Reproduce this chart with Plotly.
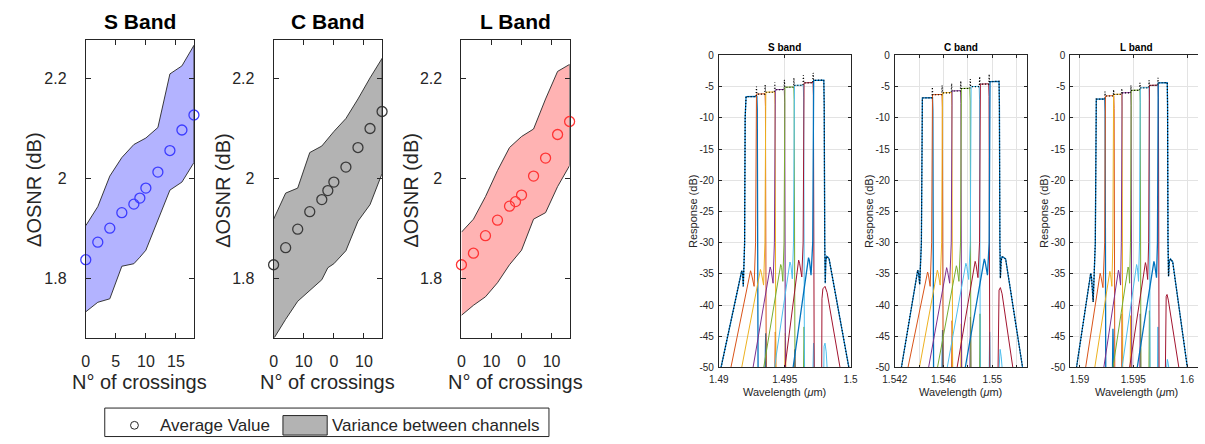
import plotly.graph_objects as go

# ---------------- left group: delta OSNR vs crossings ----------------
crossings = [0, 2, 4, 6, 8, 9, 10, 12, 14, 16, 18]
S_avg = [1.838, 1.873, 1.901, 1.932, 1.949, 1.961, 1.981, 2.013, 2.056, 2.097, 2.127]
S_upper = [1.906, 1.944, 2.005, 2.042, 2.068, 2.075, 2.081, 2.102, 2.209, 2.225, 2.266]
S_lower = [1.734, 1.753, 1.760, 1.825, 1.830, 1.843, 1.857, 1.916, 1.977, 1.993, 2.032]
C_avg = [1.828, 1.862, 1.899, 1.934, 1.958, 1.976, 1.993, 2.023, 2.062, 2.100, 2.134]
C_upper = [1.919, 1.971, 1.981, 2.052, 2.065, 2.080, 2.094, 2.120, 2.159, 2.201, 2.240]
C_lower = [1.680, 1.719, 1.755, 1.777, 1.798, 1.822, 1.830, 1.856, 1.915, 1.948, 2.010]
L_avg = [1.828, 1.851, 1.886, 1.917, 1.945, 1.954, 1.967, 2.005, 2.041, 2.088, 2.114]
L_upper = [1.893, 1.919, 1.964, 2.016, 2.062, 2.073, 2.084, 2.099, 2.159, 2.214, 2.228]
L_lower = [1.727, 1.747, 1.764, 1.792, 1.828, 1.843, 1.857, 1.919, 1.932, 1.984, 2.026]
left_titles = ["S Band", "C Band", "L Band"]
S_xticktext = ["0", "5", "10", "15"]
CL_xticktext = ["0", "10", "0", "10"]
legend_labels = ["Average Value", "Variance between channels"]

# ---------------- right group: filter responses ----------------
S_env_x = [1.49017, 1.49162, 1.49174, 1.49181, 1.49186, 1.49196, 1.49200, 1.49207,
           1.49283, 1.49286, 1.49289, 1.49349, 1.49352, 1.49355, 1.49422, 1.49425, 1.49428,
           1.49495, 1.49498, 1.49501, 1.49567, 1.49570, 1.49573, 1.49639, 1.49642, 1.49645,
           1.49713, 1.49716, 1.49719,
           1.49797, 1.49800, 1.49804, 1.49808, 1.49812, 1.49818, 1.49825, 1.49837, 1.49987]
S_env_y = [-50, -35.7, -34.5, -35.0, -37.0, -30, -10, -6.6,
           -6.6, -5.0, -6.2, -6.2, -4.7, -5.9, -5.9, -4.3, -5.5,
           -5.5, -3.9, -5.1, -5.1, -3.6, -4.8, -4.8, -3.2, -4.4,
           -4.4, -2.8, -4.0,
           -3.95, -8, -30, -36.5, -33.0, -32.2, -32.3, -32.6, -50]
S_ch_x = [
    [1.49017, 1.49162, 1.49174, 1.49181, 1.49186, 1.49196, 1.49200, 1.49207, 1.49289, 1.49292, 1.49298, None, 1.49352, 1.49354, 1.49356, 1.49358, 1.49360],
    [1.49092, 1.49229, 1.49241, 1.49248, 1.49268, 1.49279, 1.49282, 1.49286, 1.49351, 1.49354, 1.49360, None, 1.49425, 1.49427, 1.49429, 1.49431, 1.49433],
    [1.49174, 1.49304, 1.49316, 1.49323, 1.49340, 1.49350, 1.49353, 1.49357, 1.49424, 1.49427, 1.49433, None, 1.49501, 1.49503, 1.49505, 1.49507, 1.49509],
    [1.49260, 1.49378, 1.49390, 1.49397, 1.49412, 1.49422, 1.49425, 1.49429, 1.49497, 1.49500, 1.49506, None, 1.49573, 1.49575, 1.49577, 1.49579, 1.49581],
    [1.49341, 1.49458, 1.49470, 1.49477, 1.49486, 1.49495, 1.49498, 1.49502, 1.49569, 1.49572, 1.49578, None, 1.49643, 1.49645, 1.49647, 1.49649, 1.49651],
    [1.49423, 1.49528, 1.49540, 1.49547, 1.49558, 1.49567, 1.49570, 1.49574, 1.49641, 1.49644, 1.49650, None, 1.49715, 1.49717, 1.49719, 1.49721, 1.49723, None, 1.49797, 1.49799, 1.49806, 1.49815, 1.49822],
    [1.49502, 1.49594, 1.49606, 1.49613, 1.49630, 1.49640, 1.49643, 1.49647, 1.49715, 1.49718, 1.49724, None, 1.49781, 1.49783, 1.49790, 1.49806, 1.49822, 1.49920],
    [1.49564, 1.49669, 1.49681, 1.49688, 1.49700, 1.49713, 1.49716, 1.49720, 1.49797, 1.49800, 1.49804, 1.49808, 1.49812, 1.49818, 1.49825, 1.49837, 1.49987],
]
S_ch_y = [
    [-50, -35.7, -34.5, -35.0, -37.0, -30, -10, -6.6, -6.55, -8.6, -50, None, -50, -46.0, -44.5, -46.0, -50],
    [-50, -35.7, -34.5, -35.0, -37.0, -30, -10, -6.2, -6.15, -8.2, -50, None, -50, -45.8, -44.3, -45.8, -50],
    [-50, -35.5, -34.3, -34.8, -36.8, -30, -10, -5.9, -5.85, -7.9, -50, None, -50, -46.0, -44.5, -46.0, -50],
    [-50, -35.1, -33.9, -34.4, -36.5, -30, -10, -5.5, -5.45, -7.5, -50, None, -50, -48.2, -47.1, -48.2, -50],
    [-50, -34.7, -33.5, -34.0, -36.2, -30, -10, -5.1, -5.05, -7.1, -50, None, -50, -45.0, -43.5, -45.0, -50],
    [-50, -34.3, -33.1, -33.6, -35.8, -30, -10, -4.8, -4.75, -6.8, -50, None, -50, -47.3, -46.1, -47.3, -50, None, -50, -46.6, -46.1, -47.5, -50],
    [-50, -34.0, -32.8, -33.3, -35.5, -30, -10, -4.4, -4.35, -6.4, -50, None, -50, -39.0, -37.4, -37.0, -38.0, -50],
    [-50, -33.6, -32.4, -32.9, -35.2, -30, -10, -4.0, -3.95, -8, -30, -36.5, -33.0, -32.2, -32.3, -32.6, -50],
]

C_env_x = [1.54254, 1.54376, 1.54388, 1.54395, 1.54404, 1.54418, 1.54421, 1.54426,
           1.54505, 1.54508, 1.54511, 1.54585, 1.54588, 1.54591, 1.54663, 1.54666, 1.54669,
           1.54738, 1.54741, 1.54744, 1.54816, 1.54819, 1.54822, 1.54893, 1.54896, 1.54899,
           1.54971, 1.54974, 1.54977,
           1.55055, 1.55058, 1.55062, 1.55066, 1.55072, 1.55078, 1.55087, 1.55109, 1.55248]
C_env_y = [-50, -35.6, -34.4, -34.9, -36.7, -30, -10, -6.8,
           -6.8, -5.1, -6.3, -6.3, -4.8, -6.0, -6.0, -4.5, -5.7,
           -5.7, -4.1, -5.3, -5.3, -3.8, -5.0, -5.0, -3.4, -4.6,
           -4.6, -3.0, -4.2,
           -4.15, -8, -30, -35.7, -33.0, -32.3, -32.3, -32.6, -50]
C_ch_x = [
    [1.54254, 1.54376, 1.54388, 1.54395, 1.54404, 1.54418, 1.54421, 1.54426, 1.54509, 1.54512, 1.54518, None, 1.54588, 1.54590, 1.54592, 1.54594, 1.54596],
    [1.54308, 1.54457, 1.54469, 1.54476, 1.54490, 1.54502, 1.54505, 1.54509, 1.54587, 1.54590, 1.54596, None, 1.54666, 1.54668, 1.54670, 1.54672, 1.54674],
    [1.54402, 1.54537, 1.54549, 1.54556, 1.54572, 1.54584, 1.54587, 1.54591, 1.54665, 1.54668, 1.54674, None, 1.54741, 1.54743, 1.54745, 1.54747, 1.54749],
    [1.54477, 1.54613, 1.54625, 1.54632, 1.54650, 1.54663, 1.54666, 1.54670, 1.54739, 1.54742, 1.54748, None, 1.54816, 1.54818, 1.54820, 1.54822, 1.54824],
    [1.54550, 1.54693, 1.54705, 1.54712, 1.54726, 1.54739, 1.54742, 1.54746, 1.54815, 1.54818, 1.54824, None, 1.54895, 1.54897, 1.54899, 1.54901, 1.54903],
    [1.54630, 1.54771, 1.54783, 1.54790, 1.54806, 1.54819, 1.54822, 1.54826, 1.54892, 1.54895, 1.54901, None, 1.54974, 1.54976, 1.54978, 1.54980, 1.54982, None, 1.55056, 1.55058, 1.55064, 1.55073, 1.55080],
    [1.54711, 1.54847, 1.54859, 1.54866, 1.54882, 1.54895, 1.54898, 1.54902, 1.54970, 1.54973, 1.54979, None, 1.55047, 1.55049, 1.55055, 1.55066, 1.55080, 1.55168],
    [1.54778, 1.54922, 1.54934, 1.54941, 1.54960, 1.54974, 1.54977, 1.54981, 1.55055, 1.55058, 1.55062, 1.55066, 1.55072, 1.55078, 1.55087, 1.55109, 1.55248],
]
C_ch_y = [
    [-50, -35.6, -34.4, -34.9, -36.7, -30, -10, -6.8, -6.75, -8.8, -50, None, -50, -45.5, -44.0, -45.5, -50],
    [-50, -35.9, -34.7, -35.2, -37.0, -30, -10, -6.3, -6.25, -8.3, -50, None, -50, -44.0, -42.5, -44.0, -50],
    [-50, -35.6, -34.4, -34.9, -36.8, -30, -10, -6.0, -5.95, -8.0, -50, None, -50, -44.5, -43.0, -44.5, -50],
    [-50, -35.2, -34.0, -34.5, -36.5, -30, -10, -5.7, -5.65, -7.7, -50, None, -50, -43.4, -41.9, -43.4, -50],
    [-50, -34.9, -33.7, -34.2, -36.2, -30, -10, -5.3, -5.25, -7.3, -50, None, -50, -42.9, -41.4, -42.9, -50],
    [-50, -34.5, -33.3, -33.8, -35.9, -30, -10, -5.0, -4.95, -7.0, -50, None, -50, -45.8, -44.3, -45.8, -50, None, -50, -47.6, -47.1, -48.3, -50],
    [-50, -34.2, -33.0, -33.5, -35.6, -30, -10, -4.6, -4.55, -6.6, -50, None, -50, -39.0, -37.6, -37.2, -38.2, -50],
    [-50, -33.8, -32.6, -33.1, -35.2, -30, -10, -4.2, -4.15, -8, -30, -35.7, -33.0, -32.3, -32.3, -32.6, -50],
]

L_env_x = [1.58972, 1.59092, 1.59104, 1.59112, 1.59127, 1.59147, 1.59151, 1.59156,
           1.59234, 1.59237, 1.59240, 1.59314, 1.59317, 1.59320, 1.59390, 1.59393, 1.59396,
           1.59475, 1.59478, 1.59481, 1.59559, 1.59562, 1.59565, 1.59644, 1.59647, 1.59650,
           1.59727, 1.59730, 1.59733,
           1.59816, 1.59819, 1.59823, 1.59828, 1.59835, 1.59847, 1.59867, 1.60003]
L_env_y = [-50, -36.1, -34.9, -35.6, -39.5, -30, -10, -7.0,
           -7.0, -5.8, -6.5, -6.5, -5.5, -6.25, -6.25, -5.3, -6.0,
           -6.0, -4.8, -5.6, -5.6, -4.4, -5.2, -5.2, -4.0, -4.8,
           -4.8, -3.6, -4.4,
           -4.35, -8, -30, -35.4, -33.0, -32.6, -33.1, -50]
L_ch_x = [
    [1.58972, 1.59092, 1.59104, 1.59112, 1.59127, 1.59147, 1.59151, 1.59156, 1.59235, 1.59238, 1.59244, None, 1.59307, 1.59309, 1.59311, 1.59313, 1.59315],
    [1.59057, 1.59180, 1.59192, 1.59199, 1.59218, 1.59234, 1.59237, 1.59241, 1.59319, 1.59322, 1.59328, None, 1.59392, 1.59394, 1.59396, 1.59398, 1.59400],
    [1.59142, 1.59270, 1.59282, 1.59289, 1.59301, 1.59310, 1.59313, 1.59317, 1.59393, 1.59396, 1.59402, None, 1.59471, 1.59473, 1.59475, 1.59477, 1.59479],
    [1.59226, 1.59350, 1.59362, 1.59369, 1.59382, 1.59389, 1.59392, 1.59396, 1.59477, 1.59480, 1.59486, None, 1.59561, 1.59563, 1.59565, 1.59567, 1.59569],
    [1.59311, 1.59440, 1.59452, 1.59459, 1.59466, 1.59474, 1.59477, 1.59481, 1.59562, 1.59565, 1.59571, None, 1.59646, 1.59648, 1.59650, 1.59652, 1.59654],
    [1.59396, 1.59519, 1.59531, 1.59538, 1.59549, 1.59558, 1.59561, 1.59565, 1.59647, 1.59650, 1.59656, None, 1.59725, 1.59727, 1.59729, 1.59731, 1.59733, None, 1.59810, 1.59812, 1.59817, 1.59824, 1.59830],
    [1.59466, 1.59601, 1.59613, 1.59620, 1.59634, 1.59643, 1.59646, 1.59650, 1.59731, 1.59734, 1.59740, None, 1.59799, 1.59801, 1.59806, 1.59814, 1.59826, 1.59924],
    [1.59537, 1.59680, 1.59692, 1.59699, 1.59716, 1.59725, 1.59728, 1.59732, 1.59816, 1.59819, 1.59823, 1.59828, 1.59835, 1.59847, 1.59867, 1.60003],
]
L_ch_y = [
    [-50, -36.1, -34.9, -35.6, -39.5, -30, -10, -7.0, -6.95, -9.0, -50, None, -50, -45.3, -43.8, -45.3, -50],
    [-50, -36.1, -34.9, -35.4, -37.2, -30, -10, -6.5, -6.45, -8.5, -50, None, -50, -42.9, -41.4, -42.9, -50],
    [-50, -35.8, -34.6, -35.1, -37.0, -30, -10, -6.25, -6.2, -8.25, -50, None, -50, -43.2, -41.7, -43.2, -50],
    [-50, -35.6, -34.4, -34.9, -36.8, -30, -10, -6.0, -5.95, -8.0, -50, None, -50, -42.9, -41.4, -42.9, -50],
    [-50, -35.1, -33.9, -34.4, -36.5, -30, -10, -5.6, -5.55, -7.6, -50, None, -50, -42.4, -40.9, -42.4, -50],
    [-50, -34.7, -33.5, -34.0, -36.2, -30, -10, -5.2, -5.15, -7.2, -50, None, -50, -45.0, -43.5, -45.0, -50, None, -50, -49.0, -48.7, -49.3, -50],
    [-50, -34.4, -33.2, -33.7, -35.9, -30, -10, -4.8, -4.75, -6.8, -50, None, -50, -40.0, -38.6, -38.3, -39.2, -50],
    [-50, -34.2, -33.0, -33.5, -35.6, -30, -10, -4.4, -4.35, -8, -30, -35.4, -33.0, -32.6, -33.1, -50],
]
right_titles = ["S band", "C band", "L band"]
resp_ticks = [-50, -45, -40, -35, -30, -25, -20, -15, -10, -5, 0]
resp_ticktext = ["-50", "-45", "-40", "-35", "-30", "-25", "-20", "-15", "-10", "-5", "0"]
S_wl_ticks = [1.49, 1.495, 1.5]
S_wl_text = ["1.49", "1.495", "1.5"]
C_wl_ticks = [1.542, 1.544, 1.546, 1.548, 1.55, 1.552]
C_wl_text = ["1.542", "", "1.546", "", "1.55", ""]
L_wl_ticks = [1.59, 1.595, 1.6]
L_wl_text = ["1.59", "1.595", "1.6"]

# ---------------- styling ----------------
W, H = 1205, 444
INK = "#262626"
FONT = "Liberation Sans, Arial, sans-serif"
matlab = ["#0072BD", "#D95319", "#EDB120", "#7E2F8E", "#77AC30", "#4DBEEE", "#A2142F", "#0072BD"]


def px(x0, x1):
    return [x0 / W, min(x1 / W, 1.0)]


def py(top, bottom):
    return [1 - bottom / H, 1 - top / H]


fig = go.Figure()

left_sets = [
    (S_avg, S_upper, S_lower, "#b3b3ff", "#3c3cff", S_xticktext),
    (C_avg, C_upper, C_lower, "#b3b3b3", "#3a3a3a", CL_xticktext),
    (L_avg, L_upper, L_lower, "#ffb3b3", "#ff3434", CL_xticktext),
]
left_dom = [px(74, 184), px(265, 375.3), px(456, 566)]
left_ydom = py(36, 341)

layout_axes = {}
for i, (avg, up, lo, fc, mc, xt) in enumerate(left_sets):
    n = i + 1
    xa = "x" if n == 1 else f"x{n}"
    ya = "y" if n == 1 else f"y{n}"
    fig.add_trace(go.Scatter(
        x=crossings + crossings[::-1], y=up + lo[::-1], fill="toself", fillcolor=fc,
        mode="lines", line=dict(color=INK, width=0.9), xaxis=xa, yaxis=ya,
        name=legend_labels[1], showlegend=False, hoverinfo="skip"))
    fig.add_trace(go.Scatter(
        x=crossings, y=avg, mode="markers", cliponaxis=False,
        marker=dict(symbol="circle-open", size=10, color=mc, line=dict(width=1.3, color=mc)),
        xaxis=xa, yaxis=ya, name=legend_labels[0], showlegend=False))
    axis_common = dict(ticks="inside", ticklen=5, tickwidth=1, tickcolor=INK, showline=True,
                       linecolor=INK, linewidth=1, mirror="ticks", showgrid=False, zeroline=False,
                       tickfont=dict(size=16, color=INK, family=FONT))
    layout_axes["xaxis" if n == 1 else f"xaxis{n}"] = dict(
        domain=left_dom[i], range=[0, 18], tickvals=[0, 5, 10, 15], ticktext=xt,
        anchor=ya, ticklabelstandoff=9, **axis_common)
    layout_axes["yaxis" if n == 1 else f"yaxis{n}"] = dict(
        domain=left_ydom, range=[1.6826, 2.2765], tickvals=[1.8, 2.0, 2.2], ticktext=["1.8", "2", "2.2"],
        anchor=xa, ticklabelstandoff=15, **axis_common)

right_sets = [
    (S_ch_x, S_ch_y, S_env_x, S_env_y, [1.49, 1.5], S_wl_ticks, S_wl_text),
    (C_ch_x, C_ch_y, C_env_x, C_env_y, [1.542, 1.55281], C_wl_ticks, C_wl_text),
    (L_ch_x, L_ch_y, L_env_x, L_env_y, [1.58913, 1.60102], L_wl_ticks, L_wl_text),
]
right_dom = [px(717.7, 851.7), px(896.7, 1030.7), px(1075, 1209)]
right_ydom = py(51.7, 371.7)
for i, (cx, cy, ex, ey, rng, tv, tt) in enumerate(right_sets):
    n = i + 4
    xa, ya = f"x{n}", f"y{n}"
    for k in range(8):
        fig.add_trace(go.Scatter(
            x=cx[k], y=cy[k], mode="lines", connectgaps=False,
            line=dict(color=matlab[k], width=1.3 if k in (0, 7) else 1.0),
            xaxis=xa, yaxis=ya, showlegend=False, hoverinfo="skip"))
    fig.add_trace(go.Scatter(
        x=ex, y=ey, mode="lines", line=dict(color="black", width=1.2, dash="1px,2px"),
        xaxis=xa, yaxis=ya, showlegend=False, hoverinfo="skip"))
    axis_common = dict(ticks="inside", ticklen=3, tickwidth=0.8, tickcolor=INK, showline=True,
                       linecolor=INK, linewidth=0.8, showgrid=True, gridcolor="#e3e3e3",
                       gridwidth=0.8, zeroline=False, tickfont=dict(size=10, color=INK, family=FONT))
    layout_axes[f"xaxis{n}"] = dict(domain=right_dom[i], range=rng, tickvals=tv, ticktext=tt,
                                    anchor=ya, mirror="ticks", ticklabelstandoff=3, **axis_common)
    layout_axes[f"yaxis{n}"] = dict(domain=right_ydom, range=[-50, 0], tickvals=resp_ticks,
                                    ticktext=resp_ticktext, anchor=xa,
                                    mirror=("ticks" if i < 2 else False),
                                    ticklabelstandoff=2, **axis_common)

annotations = []


def ann(text, x, y, size, angle=0, bold=False, xanchor="center"):
    annotations.append(dict(
        text=f"<b>{text}</b>" if bold else text, x=x / W, y=1 - y / H, xref="paper", yref="paper",
        showarrow=False, xanchor=xanchor, yanchor="middle", textangle=angle,
        font=dict(size=size, color="black" if bold else INK, family=FONT)))


for t, cxp, ylx in zip(left_titles, [129, 320, 511], [22, 214, 405]):
    ann(t, cxp, 17, 21, bold=True)
    ann("N° of crossings", cxp, 387, 20)
    ann("ΔOSNR (dB)", ylx, 190, 20, angle=-90)
for t, cxp, ylx in zip(right_titles, [784.7, 963.7, 1142], [692, 871, 1049]):
    ann(t, cxp, 43.5, 10, bold=True)
    ann("Wavelength (<i>μ</i>m)", cxp, 397, 11)
    ann("Response (dB)", ylx, 211.7, 11, angle=-90)

# legend (box, open circle, grey patch, labels)
ann(legend_labels[0], 147, 431.5, 17, xanchor="left")
ann(legend_labels[1], 322, 431.5, 17, xanchor="left")


def rect_px(x0, y0, x1, y1, **kw):
    return dict(xref="paper", yref="paper", x0=x0 / W, x1=x1 / W, y0=1 - y1 / H, y1=1 - y0 / H, **kw)


shapes = [
    rect_px(93.3, 413.3, 545, 442.5, type="rect", line=dict(color=INK, width=1), fillcolor="white", layer="below"),
    rect_px(119.5, 427, 127.5, 435, type="circle", line=dict(color=INK, width=1)),
    rect_px(274.5, 421, 319.5, 441, type="rect", line=dict(color=INK, width=1), fillcolor="#b3b3b3"),
]

fig.update_layout(
    width=W, height=H, autosize=False, margin=dict(l=0, r=0, t=0, b=0),
    paper_bgcolor="white", plot_bgcolor="white",
    font=dict(family=FONT, color=INK),
    showlegend=False,
    annotations=annotations,
    shapes=shapes,
    **layout_axes,
)

fig.write_html("out.html", config={"displayModeBar": False},
               post_script="document.body.style.margin='0';document.body.style.overflow='hidden';")
